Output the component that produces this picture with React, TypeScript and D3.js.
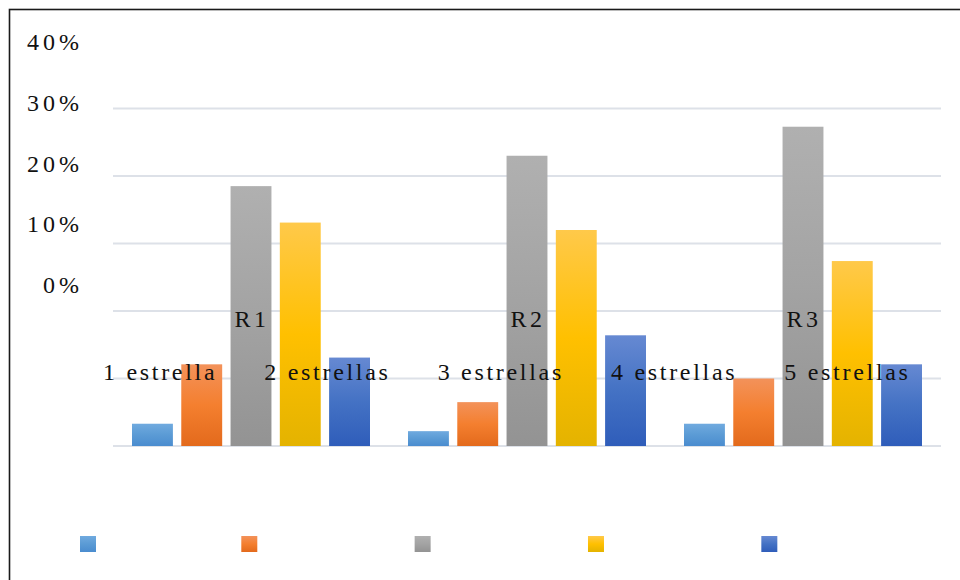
import React, { useEffect, useRef } from "react";
import * as d3 from "d3";

// Regions (groups) and star-rating series
const categories = ["R1", "R2", "R3"];
const series = ["1 estrella", "2 estrellas", "3 estrellas", "4 estrellas", "5 estrellas"];

// Share of each rating per region (fractions)
const estrella1 = [0.033, 0.022, 0.033];
const estrellas2 = [0.121, 0.065, 0.1];
const estrellas3 = [0.385, 0.43, 0.473];
const estrellas4 = [0.331, 0.32, 0.274];
const estrellas5 = [0.131, 0.164, 0.121];

const seriesValues = [estrella1, estrellas2, estrellas3, estrellas4, estrellas5];

// Axis tick labels and gridline ticks
const tickLabels = ["40%", "30%", "20%", "10%", "0%"];
const gridTicks = [0, 0.1, 0.2, 0.3, 0.4, 0.5];

// Gradient stops per series: top, middle, bottom
const palettes = [
  ["#70aadf", "#5b9bd5", "#4a8ccf"],
  ["#f3925a", "#f47f2f", "#e36a1c"],
  ["#b0b0b0", "#a3a3a3", "#939393"],
  ["#ffc94a", "#ffc000", "#e4b300"],
  ["#6689d2", "#4472c4", "#2f5dba"],
];

const W = 960;
const H = 580;
const FONT = "'Liberation Serif', 'Times New Roman', serif";

export default function App() {
  const ref = useRef<SVGSVGElement | null>(null);

  useEffect(() => {
    const svg = d3.select(ref.current);
    svg.selectAll("*").remove();

    const defs = svg.append("defs");
    palettes.forEach((p, i) => {
      const g = defs
        .append("linearGradient")
        .attr("id", `grad${i}`)
        .attr("x1", 0)
        .attr("y1", 0)
        .attr("x2", 0)
        .attr("y2", 1);
      g.append("stop").attr("offset", "0%").attr("stop-color", p[0]);
      g.append("stop").attr("offset", "50%").attr("stop-color", p[1]);
      g.append("stop").attr("offset", "100%").attr("stop-color", p[2]);
    });

    // Scales
    const x0 = d3.scaleBand<string>().domain(categories).range([113, 941]).padding(0);
    const x1 = d3
      .scaleBand<string>()
      .domain(series)
      .range([19, x0.bandwidth() - 19])
      .paddingInner(0.17);
    const y = d3.scaleLinear().domain([0, 0.5]).range([446, 108.5]);
    const labelY = d3.scaleLinear().domain([0, 0.4]).range([293, 50]);

    // Gridlines
    svg
      .append("g")
      .selectAll("line")
      .data(gridTicks)
      .join("line")
      .attr("x1", x0.range()[0])
      .attr("x2", x0.range()[1])
      .attr("y1", (d) => y(d))
      .attr("y2", (d) => y(d))
      .attr("stroke", "#dde1e8")
      .attr("stroke-width", 1.8);

    // Bars
    const groups = svg
      .append("g")
      .selectAll("g")
      .data(categories)
      .join("g")
      .attr("transform", (c) => `translate(${x0(c)},0)`);

    groups
      .selectAll("rect")
      .data((c, ci) => series.map((s, si) => ({ s, si, v: seriesValues[si][ci] })))
      .join("rect")
      .attr("x", (d) => x1(d.s)!)
      .attr("width", x1.bandwidth())
      .attr("y", (d) => y(d.v))
      .attr("height", (d) => y(0) - y(d.v))
      .attr("fill", (d) => `url(#grad${d.si})`);

    // Tick labels
    svg
      .append("g")
      .selectAll("text")
      .data(tickLabels)
      .join("text")
      .attr("x", 83)
      .attr("y", (d) => labelY(parseFloat(d) / 100))
      .attr("text-anchor", "end")
      .attr("font-family", FONT)
      .attr("font-size", 24)
      .attr("letter-spacing", 4)
      .attr("fill", "#111")
      .text((d) => d);

    // Category labels
    svg
      .append("g")
      .selectAll("text")
      .data(categories)
      .join("text")
      .attr("x", (c) => x0(c)! + x0.bandwidth() / 2 + 1)
      .attr("y", 327)
      .attr("text-anchor", "middle")
      .attr("font-family", FONT)
      .attr("font-size", 24)
      .attr("letter-spacing", 3.5)
      .attr("fill", "#111")
      .text((c) => c);

    // Legend: swatches along the bottom, names laid out by measured width
    const legendText = svg
      .append("g")
      .selectAll("text")
      .data(series)
      .join("text")
      .attr("y", 380)
      .attr("font-family", FONT)
      .attr("font-size", 24)
      .attr("letter-spacing", 2.7)
      .attr("fill", "#111")
      .text((d) => d);

    const widths: number[] = [];
    legendText.each(function () {
      widths.push((this as SVGTextElement).getComputedTextLength());
    });
    const starts: number[] = [];
    let cx = 80;
    widths.forEach((w) => {
      starts.push(cx);
      cx += 16 + 9 + w + 22;
    });
    legendText.attr("x", (_d, i) => starts[i] + 23);

    svg
      .append("g")
      .selectAll("rect")
      .data(series)
      .join("rect")
      .attr("x", (_d, i) => starts[i])
      .attr("y", 536)
      .attr("width", 16)
      .attr("height", 16)
      .attr("fill", (_d, i) => `url(#grad${i})`);

    // Frame
    svg
      .append("rect")
      .attr("x", 9.5)
      .attr("y", 9.5)
      .attr("width", W + 20)
      .attr("height", H + 20)
      .attr("fill", "none")
      .attr("stroke", "#1a1a1a")
      .attr("stroke-width", 1.6);
  }, []);

  return (
    <svg
      ref={ref}
      width={W}
      height={H}
      style={{ position: "absolute", left: 0, top: 0, background: "#fff" }}
    />
  );
}
